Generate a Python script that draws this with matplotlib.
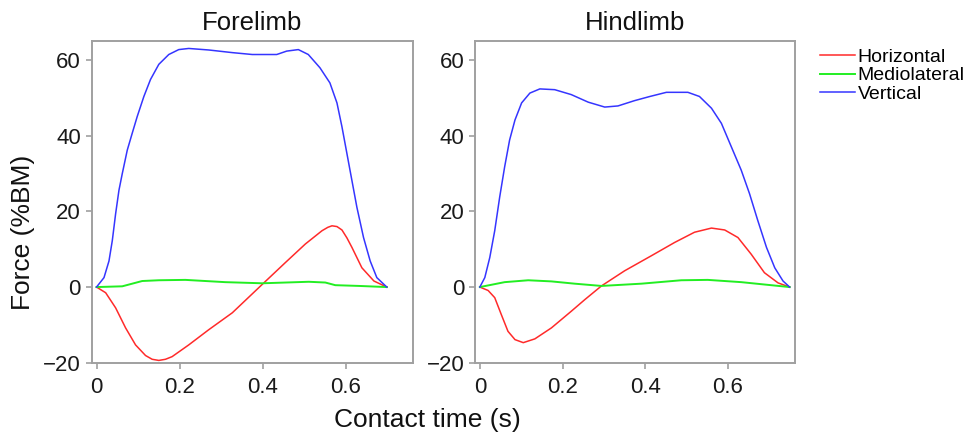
import matplotlib
matplotlib.use("Agg")
import matplotlib.pyplot as plt

plt.rcParams['font.family'] = ['Liberation Sans', 'DejaVu Sans']

# ---- data ----
fore_t_vert = [0, 0.018, 0.030, 0.038, 0.046, 0.054, 0.062, 0.074, 0.086, 0.098, 0.114,
               0.130, 0.150, 0.174, 0.198, 0.222, 0.270, 0.327, 0.375, 0.434, 0.458,
               0.486, 0.510, 0.538, 0.562, 0.579, 0.591, 0.603, 0.615, 0.627, 0.643,
               0.659, 0.675, 0.699]
fore_vert = [0, 2.5, 6.9, 12.3, 19.4, 25.6, 30.0, 36.2, 40.7, 45.1, 50.4,
             54.9, 58.9, 61.5, 62.8, 63.1, 62.7, 62.0, 61.5, 61.5, 62.4,
             62.8, 61.5, 58.0, 54.0, 48.7, 42.4, 35.3, 28.2, 21.1, 13.1,
             6.9, 2.5, 0]

fore_t_horiz = [0, 0.022, 0.046, 0.070, 0.094, 0.118, 0.134, 0.150, 0.166, 0.182, 0.222,
                0.270, 0.327, 0.399, 0.455, 0.503, 0.543, 0.557, 0.567, 0.579, 0.591,
                0.603, 0.615, 0.639, 0.668, 0.699]
fore_horiz = [0, -1.5, -5.5, -10.8, -15.3, -18.1, -19.1, -19.4, -19.1, -18.4, -15.3,
              -11.3, -6.8, 0.7, 6.5, 11.4, 14.9, 15.8, 16.2, 16.0, 15.1,
              13.0, 10.5, 5.1, 1.6, 0]

fore_t_ml = [0, 0.062, 0.086, 0.110, 0.150, 0.214, 0.310, 0.399, 0.511, 0.551, 0.575,
             0.632, 0.699]
fore_ml = [0, 0.2, 0.9, 1.6, 1.8, 1.9, 1.3, 1.0, 1.4, 1.2, 0.5, 0.3, 0]

hind_t_vert = [0, 0.012, 0.024, 0.036, 0.048, 0.060, 0.072, 0.085, 0.101, 0.121, 0.145,
               0.181, 0.221, 0.262, 0.302, 0.334, 0.374, 0.411, 0.451, 0.503, 0.531,
               0.560, 0.584, 0.608, 0.632, 0.652, 0.672, 0.693, 0.713, 0.733, 0.749]
hind_vert = [0, 2.5, 7.8, 14.9, 23.8, 31.8, 38.9, 44.2, 48.7, 51.3, 52.4,
             52.2, 50.9, 48.9, 47.6, 47.9, 49.3, 50.4, 51.5, 51.5, 50.4,
             47.3, 43.3, 37.1, 30.9, 24.7, 17.6, 10.5, 5.1, 1.6, 0]

hind_t_horiz = [0, 0.020, 0.036, 0.052, 0.068, 0.085, 0.105, 0.133, 0.173, 0.221, 0.254,
                0.294, 0.350, 0.415, 0.471, 0.519, 0.560, 0.592, 0.624, 0.656, 0.688,
                0.721, 0.749]
hind_horiz = [0, -0.9, -2.8, -7.3, -11.7, -13.9, -14.7, -13.7, -10.8, -6.4, -3.3,
              0.3, 4.3, 8.3, 11.8, 14.5, 15.6, 15.1, 13.1, 8.7, 3.8,
              1.1, 0]

hind_t_ml = [0, 0.060, 0.117, 0.173, 0.229, 0.294, 0.391, 0.487, 0.551, 0.632, 0.749]
hind_ml = [0, 1.3, 1.8, 1.5, 0.9, 0.3, 0.9, 1.8, 1.9, 1.3, 0]

titles = ["Forelimb", "Hindlimb"]
series_names = ["Horizontal", "Mediolateral", "Vertical"]
x_ticks = [0, 0.2, 0.4, 0.6]
x_ticklabels = ["0", "0.2", "0.4", "0.6"]
y_ticks = [-20, 0, 20, 40, 60]
y_ticklabels = ["\u221220", "0", "20", "40", "60"]

colors = ["#ff2a2a", "#22ee22", "#3535ff"]
gray = "#a0a0a0"

fig = plt.figure(figsize=(9.68, 4.34), dpi=100)
ax1 = fig.add_axes([0.0950, 0.1643, 0.3316, 0.7406])
ax2 = fig.add_axes([0.4910, 0.1643, 0.3303, 0.7406])

panels = [
    (ax1, fore_t_horiz, fore_horiz, fore_t_ml, fore_ml, fore_t_vert, fore_vert),
    (ax2, hind_t_horiz, hind_horiz, hind_t_ml, hind_ml, hind_t_vert, hind_vert),
]
handles = []
for i, (ax, th, h, tm, m, tv, v) in enumerate(panels):
    l1, = ax.plot(th, h, color=colors[0], lw=1.1, solid_joinstyle='round')
    l2, = ax.plot(tm, m, color=colors[1], lw=1.4, solid_joinstyle='round')
    l3, = ax.plot(tv, v, color=colors[2], lw=1.1, solid_joinstyle='round')
    if i == 0:
        handles = [l1, l2, l3]
    ax.set_xlim(-0.011, 0.762)
    ax.set_ylim(-20, 65)
    ax.set_xticks(x_ticks)
    ax.set_xticklabels(x_ticklabels)
    ax.set_yticks(y_ticks)
    ax.set_yticklabels(y_ticklabels)
    ax.tick_params(axis='both', direction='out', length=4, width=1.2, color=gray,
                   labelsize=16, labelcolor='#1a1a1a')
    ax.tick_params(axis='x', pad=6)
    ax.tick_params(axis='y', pad=4)
    for s in ax.spines.values():
        s.set_color(gray)
        s.set_linewidth(1.4)
    ax.set_title(titles[i], fontsize=18.5, pad=8, color='#111111')

fig.text(0.024, 0.465, "Force (%BM)", rotation=90, ha='center', va='center',
         fontsize=19, color='#111111')
fig.text(0.441, 0.032, "Contact time (s)", ha='center', va='center',
         fontsize=19, color='#111111')

fig.legend(handles, series_names, loc='upper left', bbox_to_anchor=(0.847, 0.888),
           frameon=False, fontsize=14, handlelength=1.8, handletextpad=0.15,
           labelspacing=0.03, borderpad=0, borderaxespad=0)

fig.savefig("out.png", dpi=100)
